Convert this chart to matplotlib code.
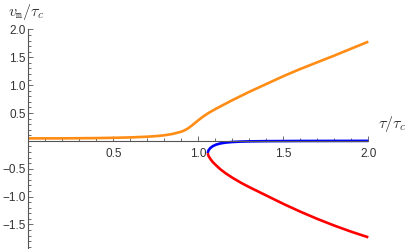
import numpy as np
import matplotlib.pyplot as plt
from matplotlib.ticker import MultipleLocator, FixedLocator

# values
orange_x = [0.0, 0.2, 0.4, 0.5, 0.6, 0.7, 0.75, 0.8, 0.85, 0.9, 0.92, 0.94,
            0.96, 0.98, 1.0, 1.03, 1.06, 1.1, 1.15, 1.2, 1.3, 1.4, 1.5, 1.6,
            1.7, 1.8, 1.9, 2.0]
orange_y = [0.045, 0.045, 0.05, 0.055, 0.062, 0.075, 0.085, 0.1, 0.125, 0.165,
            0.19, 0.225, 0.27, 0.32, 0.37, 0.44, 0.5, 0.57, 0.65, 0.73, 0.88,
            1.02, 1.16, 1.29, 1.41, 1.53, 1.655, 1.78]

blue_x = [1.055, 1.06, 1.07, 1.085, 1.105, 1.13, 1.16, 1.2, 1.25, 1.3, 1.4,
          1.6, 2.0]
blue_y = [-0.22, -0.17, -0.13, -0.095, -0.067, -0.046, -0.031, -0.02, -0.013,
          -0.009, -0.005, -0.002, 0.0]

red_x = [1.055, 1.06, 1.07, 1.085, 1.105, 1.13, 1.16, 1.2, 1.25, 1.3, 1.4,
         1.5, 1.6, 1.7, 1.8, 1.9, 2.0]
red_y = [-0.22, -0.27, -0.32, -0.38, -0.44, -0.51, -0.58, -0.66, -0.75, -0.83,
         -0.98, -1.13, -1.27, -1.40, -1.52, -1.63, -1.73]

xticks = [0.5, 1.0, 1.5, 2.0]
yticks = [-1.5, -1.0, -0.5, 0.5, 1.0, 1.5, 2.0]

plt.rcParams['font.family'] = ['Liberation Sans', 'DejaVu Sans']
plt.rcParams['mathtext.fontset'] = 'cm'

fig = plt.figure(figsize=(4.17, 2.49), dpi=100)
ax = fig.add_axes([28.3 / 417, 0.0, 340 / 417, 1 - 29.4 / 249])

for xs, ys, c in [(orange_x, orange_y, '#ff8c14'),
                  (blue_x, blue_y, '#0000ff'),
                  (red_x, red_y, '#ff0000')]:
    ax.plot(xs, ys, color=c, lw=1.9, clip_on=False,
            solid_capstyle='butt', solid_joinstyle='round')

ax.set_xlim(0, 2.0)
ax.set_ylim(-1.94, 2.0)

for s in ['top', 'right']:
    ax.spines[s].set_visible(False)
ax.spines['left'].set_position(('data', 0))
ax.spines['bottom'].set_position(('data', 0))
for s in ['left', 'bottom']:
    ax.spines[s].set_color('#555555')
    ax.spines[s].set_linewidth(0.8)

ax.xaxis.set_major_locator(FixedLocator(xticks))
ax.yaxis.set_major_locator(FixedLocator(yticks))
ax.xaxis.set_minor_locator(MultipleLocator(0.1))
ax.yaxis.set_minor_locator(MultipleLocator(0.1))
ax.set_xticklabels(['%.1f' % v for v in xticks])
ax.set_yticklabels([('%.1f' % v).replace('-', '\u2212') for v in yticks])

ax.tick_params(which='both', direction='in', color='#555555', width=0.6,
               labelsize=8.5, labelcolor='#333333')
ax.tick_params(which='major', length=3.5)
ax.tick_params(which='minor', length=2)
ax.tick_params(axis='x', pad=5)
ax.tick_params(axis='y', pad=2)

fig.text(8 / 417, 1 - 12 / 249, r'$v_{\mathtt{m}}/\tau_c$', fontsize=11.5,
         va='center', ha='left', color='#333333')
fig.text(378 / 417, 1 - 124 / 249, r'$\tau/\tau_c$', fontsize=11.5,
         va='center', ha='left', color='#333333')

fig.savefig('out.png', dpi=100)
